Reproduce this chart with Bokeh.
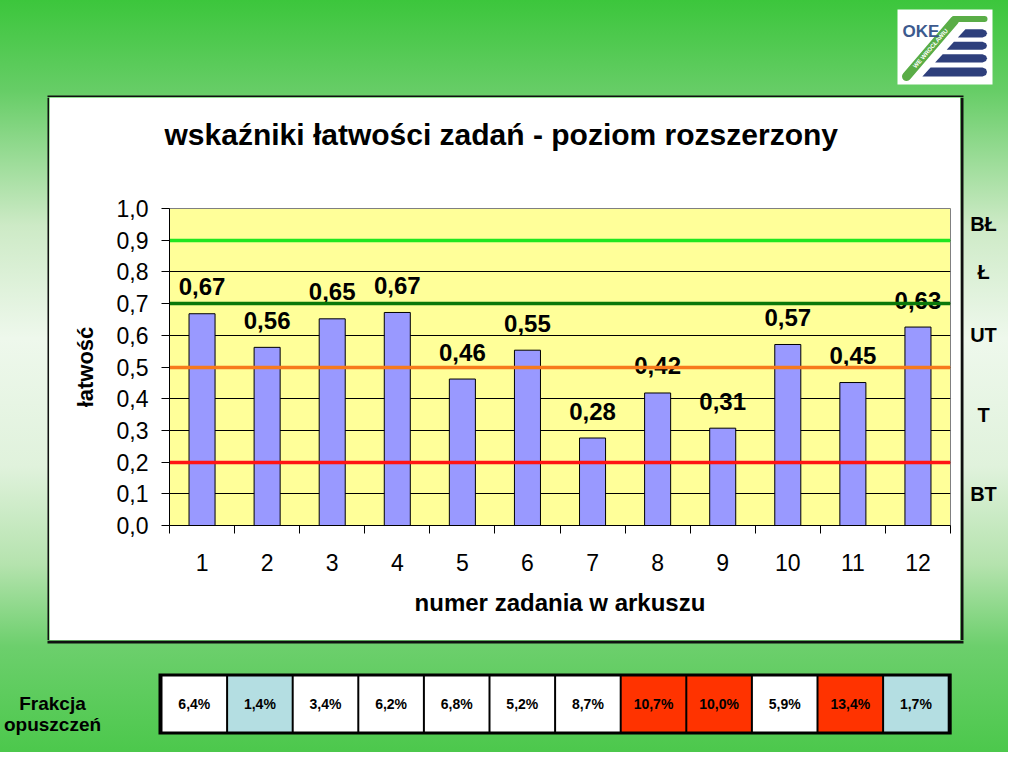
from bokeh.plotting import figure
from bokeh.models import Range1d, FixedTicker, CustomJSTickFormatter, ColumnDataSource, Title
from bokeh.layouts import column, row
from bokeh.embed import file_html
from bokeh.resources import INLINE
from bokeh.core.properties import value

# ---------------- data ----------------
task_numbers = [1, 2, 3, 4, 5, 6, 7, 8, 9, 10, 11, 12]
easiness = [0.668, 0.562, 0.652, 0.672, 0.462, 0.553, 0.276, 0.418, 0.307, 0.571, 0.451, 0.626]
omission_pct = [6.4, 1.4, 3.4, 6.2, 6.8, 5.2, 8.7, 10.7, 10.0, 5.9, 13.4, 1.7]
threshold_levels = [0.9, 0.7, 0.5, 0.2]
threshold_colors = ["#20e620", "#0a780a", "#f77a1c", "#ff1414"]
band_edges = [0.0, 0.2, 0.5, 0.7, 0.9, 1.0]
band_names = ["BT", "T", "UT", "Ł", "BŁ"]
y_ticks = [0.0, 0.1, 0.2, 0.3, 0.4, 0.5, 0.6, 0.7, 0.8, 0.9, 1.0]
title_text = "wskaźniki łatwości zadań - poziom rozszerzony"
x_title = "numer zadania w arkuszu"
y_title = "łatwość"
table_title = ["Frakcja", "opuszczeń"]
logo_text = "OKE"
logo_sub = "WE WROCŁAWIU"

FONT = "Liberation Sans"
BORDER = "#101010"

# ---------------- layout constants (page px = reference px - 8) ----------------
W_CHART, H_CHART = 911, 543
MB_L, MB_R, MB_T, MB_B = 120, 10, 111, 115
FRAME_H = H_CHART - MB_T - MB_B


def decor(w, h, xr, yr):
    f = figure(width=w, height=h, x_range=xr, y_range=yr, x_axis_type=None, y_axis_type=None,
               output_backend="svg", toolbar_location=None, min_border=0, frame_align=False)
    f.min_border_left = f.min_border_right = f.min_border_top = f.min_border_bottom = 0
    f.grid.visible = False
    f.outline_line_color = None
    f.background_fill_color = None
    f.border_fill_color = None
    return f


# ---------------- main chart ----------------
p = figure(width=W_CHART, height=H_CHART, x_range=Range1d(0.5, 12.5), y_range=Range1d(0, 1),
           output_backend="svg", toolbar_location=None, title=title_text, frame_align=False,
           min_border_left=MB_L, min_border_right=MB_R, min_border_top=MB_T, min_border_bottom=MB_B)
p.background_fill_color = "#ffff99"
p.border_fill_color = "white"
p.outline_line_color = "#808080"
p.outline_line_width = 1

p.title.text_font = FONT
p.title.text_font_size = "30px"
p.title.text_font_style = "bold"
p.title.text_color = "black"
p.title.align = "left"
p.title.offset = -5
p.title.vertical_align = "top"
p.title.standoff = 36
# empty spacer between the frame and the title (lifts the title)
p.add_layout(Title(text=" ", text_font_size="26px", standoff=6), "above")

p.yaxis.ticker = FixedTicker(ticks=y_ticks)
p.yaxis.formatter = CustomJSTickFormatter(code="return tick.toFixed(1).replace('.', ',');")
p.yaxis.major_label_text_font = FONT
p.yaxis.major_label_text_font_size = "23px"
p.yaxis.major_label_text_color = "black"
p.yaxis.major_tick_out = 8
p.yaxis.major_tick_in = 0
p.yaxis.major_tick_line_color = "black"
p.yaxis.minor_tick_line_color = None
p.yaxis.axis_line_color = "black"
p.yaxis.major_label_standoff = 13
p.yaxis.axis_label = y_title
p.yaxis.axis_label_text_font = FONT
p.yaxis.axis_label_text_font_size = "22px"
p.yaxis.axis_label_text_font_style = "bold"
p.yaxis.axis_label_text_color = "black"
p.yaxis.axis_label_standoff = 16

p.xaxis.ticker = FixedTicker(ticks=task_numbers,
                             minor_ticks=[n - 0.5 for n in task_numbers] + [task_numbers[-1] + 0.5])
p.xaxis.major_label_text_font = FONT
p.xaxis.major_label_text_font_size = "23px"
p.xaxis.major_label_text_color = "black"
p.xaxis.major_tick_out = 0
p.xaxis.major_tick_in = 0
p.xaxis.minor_tick_out = 8
p.xaxis.minor_tick_in = 0
p.xaxis.minor_tick_line_color = "black"
p.xaxis.axis_line_color = "black"
p.xaxis.major_label_standoff = 20
p.xaxis.axis_label = x_title
p.xaxis.axis_label_text_font = FONT
p.xaxis.axis_label_text_font_size = "24px"
p.xaxis.axis_label_text_font_style = "bold"
p.xaxis.axis_label_text_color = "black"
p.xaxis.axis_label_standoff = 15

p.ygrid.ticker = p.yaxis.ticker
p.ygrid.grid_line_color = "black"
p.xgrid.grid_line_color = None

src = ColumnDataSource(dict(x=task_numbers, top=easiness,
                            label=[f"{v:.2f}".replace(".", ",") for v in easiness]))
p.vbar(x="x", top="top", width=0.4, source=src, fill_color="#9999ff", line_color="black", line_width=1)
p.text(x="x", y="top", text="label", source=src, text_font=value(FONT), text_font_style="bold",
       text_font_size="24px", text_align="center", text_baseline="alphabetic", y_offset=-27,
       text_color="black")
p.hspan(y=threshold_levels, line_color=threshold_colors, line_width=3.5)

# ---------------- top band (logo, box top border) ----------------
top = decor(1008, 97, Range1d(8, 1016), Range1d(105, 8))
top.quad(left=[55], right=[971], top=[103], bottom=[105], fill_color=BORDER, line_color=None)
top.quad(left=[905], right=[1000], top=[17], bottom=[92], fill_color="white", line_color=None)


def xl(y):
    return 969 - (y - 41) * 0.91


stripes = [(36.7, 45.0), (49.3, 57.3), (61.7, 70.0), (75.0, 84.0)]
xs, ys = [], []
for y0, y1 in stripes:
    ym = (y0 + y1) / 2
    xs.append([xl(y0), 990, 993.5, 994.5, 993.5, 990, xl(y1)])
    ys.append([y0, y0, y0 + 1.5, ym, y1 - 1.5, y1, y1])
top.patches(xs=xs, ys=ys, fill_color="#2e3f7c", line_color=None)
top.line(x=[962, 992], y=[26.5, 26.5], line_width=6, line_color="#5aad47", line_cap="round")
top.line(x=[914, 962], y=[84, 28], line_width=9, line_color="#5aad47", line_cap="round")
top.text(x=[938], y=[56], text=[logo_sub], angle=0.86, text_font=value(FONT), text_font_style="bold",
         text_font_size="6px", text_color="white", text_align="center", text_baseline="middle")
top.text(x=[910], y=[38.5], text=[logo_text], text_font=value(FONT), text_font_style="bold",
         text_font_size="17px", text_color="#3c5a8e", text_align="left", text_baseline="alphabetic")

# ---------------- side strips ----------------
left = decor(49, H_CHART, Range1d(8, 57), Range1d(648, 105))
left.quad(left=[55], right=[57], top=[105], bottom=[648], fill_color=BORDER, line_color=None)

right = decor(48, H_CHART, Range1d(968, 1016), Range1d(648, 105))
right.quad(left=[968], right=[971], top=[105], bottom=[648], fill_color=BORDER, line_color=None)
right.extra_y_ranges = {"easiness": Range1d(-MB_B / FRAME_H, 1 + MB_T / FRAME_H)}
band_mid = [(a + b) / 2 for a, b in zip(band_edges[:-1], band_edges[1:])]
right.text(x=[991] * len(band_names), y=band_mid, text=band_names, y_range_name="easiness",
           text_font=value(FONT), text_font_style="bold", text_font_size="20px", text_color="black",
           text_align="center", text_baseline="middle")

# ---------------- bottom band (omission table) ----------------
bot = decor(1008, 112, Range1d(8, 1016), Range1d(760, 648))
bot.quad(left=[55], right=[971], top=[648], bottom=[651], fill_color=BORDER, line_color=None)
bot.text(x=[60, 60], y=[711, 732], text=table_title, text_font=value(FONT), text_font_style="bold",
         text_font_size="19px", text_color="black", text_align="center", text_baseline="alphabetic")

TX0, CW, TY0, TY1 = 169, 65.6, 684, 739
n = len(omission_pct)
bot.quad(left=[TX0 - 3], right=[TX0 + n * CW + 3], top=[TY0 - 3], bottom=[TY1 + 3],
         fill_color="black", line_color=None)


def cell_color(v):
    if v >= 10:
        return "#ff3300"
    if v < 2:
        return "#b4dee2"
    return "white"


tsrc = ColumnDataSource(dict(
    l=[TX0 + i * CW + 1 for i in range(n)],
    r=[TX0 + (i + 1) * CW - 1 for i in range(n)],
    cx=[TX0 + (i + 0.5) * CW for i in range(n)],
    c=[cell_color(v) for v in omission_pct],
    t=[f"{v:.1f}%".replace(".", ",") for v in omission_pct],
))
bot.quad(left="l", right="r", top=TY0, bottom=TY1, source=tsrc, fill_color="c", line_color=None)
bot.text(x="cx", y=(TY0 + TY1) / 2, text="t", source=tsrc, text_font=value(FONT), text_font_style="bold",
         text_font_size="14px", text_color="black", text_align="center", text_baseline="middle")

root = column(top, row(left, p, right), bot,
              styles={"background": "linear-gradient(to bottom, #3cc63c 0%, #66cd66 12%, #cdeac6 30%, "
                                    "#eef8ec 45%, #e0f2dc 62%, #b5e3ae 75%, #6ccf6c 86%, #4cc84c 100%)"})

open("out.html", "w").write(file_html(root, INLINE))
